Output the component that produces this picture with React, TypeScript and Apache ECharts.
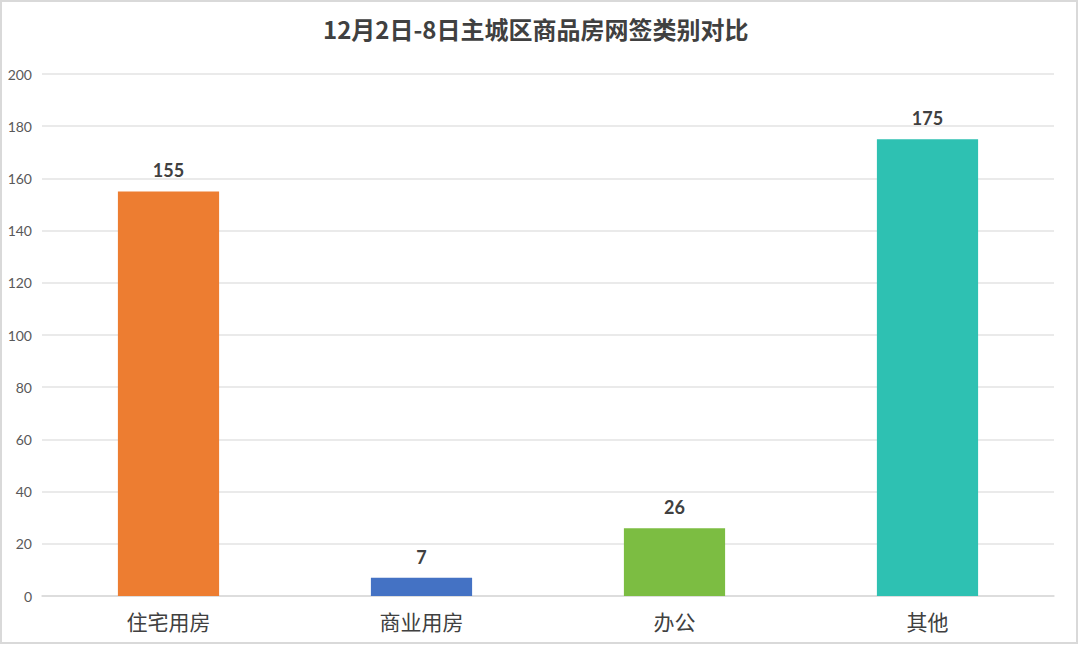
import React, { useEffect, useRef } from "react";
import * as echarts from "echarts";

const titleText = "12月2日-8日主城区商品房网签类别对比";
const categories = ["住宅用房", "商业用房", "办公", "其他"];
const values = [155, 7, 26, 175];
const barColors = ["#ED7D31", "#4472C4", "#7CBD42", "#2EC1B2"];

const CJK = "'Noto Sans CJK SC', 'Microsoft YaHei', sans-serif";
const NUM = "Lato, 'Noto Sans', sans-serif";

export default function App() {
  const ref = useRef<HTMLDivElement>(null);
  useEffect(() => {
    document.body.style.margin = "0";
    const chart = echarts.init(ref.current!, null, { renderer: "svg" });
    chart.setOption({
      animation: false,
      backgroundColor: "#ffffff",
      title: {
        text: titleText,
        left: 318,
        top: 11,
        textStyle: { fontFamily: CJK, fontSize: 24, fontWeight: "bold", color: "#404040" },
      },
      graphic: [
        {
          type: "rect",
          shape: { x: 1, y: 1, width: 1076, height: 642 },
          style: { fill: "none", stroke: "#d9d9d9", lineWidth: 2 },
          silent: true,
        },
      ],
      grid: { left: 42, right: 26, top: 74, bottom: 49, containLabel: false },
      xAxis: {
        type: "category",
        data: categories,
        axisLine: { show: true, lineStyle: { color: "#d9d9d9", width: 1.5 } },
        axisTick: { show: false },
        axisLabel: { fontFamily: CJK, fontSize: 21, color: "#404040", margin: 14 },
      },
      yAxis: {
        type: "value",
        min: 0,
        max: 200,
        interval: 20,
        axisLine: { show: false },
        axisTick: { show: false },
        splitLine: { lineStyle: { color: "#e3e3e3", width: 1.5 } },
        axisLabel: { fontFamily: NUM, fontSize: 14, color: "#595959", margin: 10 },
      },
      series: [
        {
          type: "bar",
          data: values.map((v, i) => ({ value: v, itemStyle: { color: barColors[i] } })),
          barWidth: "40%",
          label: {
            show: true,
            position: "top",
            distance: 12,
            fontFamily: NUM,
            fontSize: 18,
            fontWeight: "bold",
            color: "#404040",
          },
        },
      ],
    });
    return () => chart.dispose();
  }, []);
  return <div ref={ref} style={{ width: 1080, height: 645 }} />;
}
